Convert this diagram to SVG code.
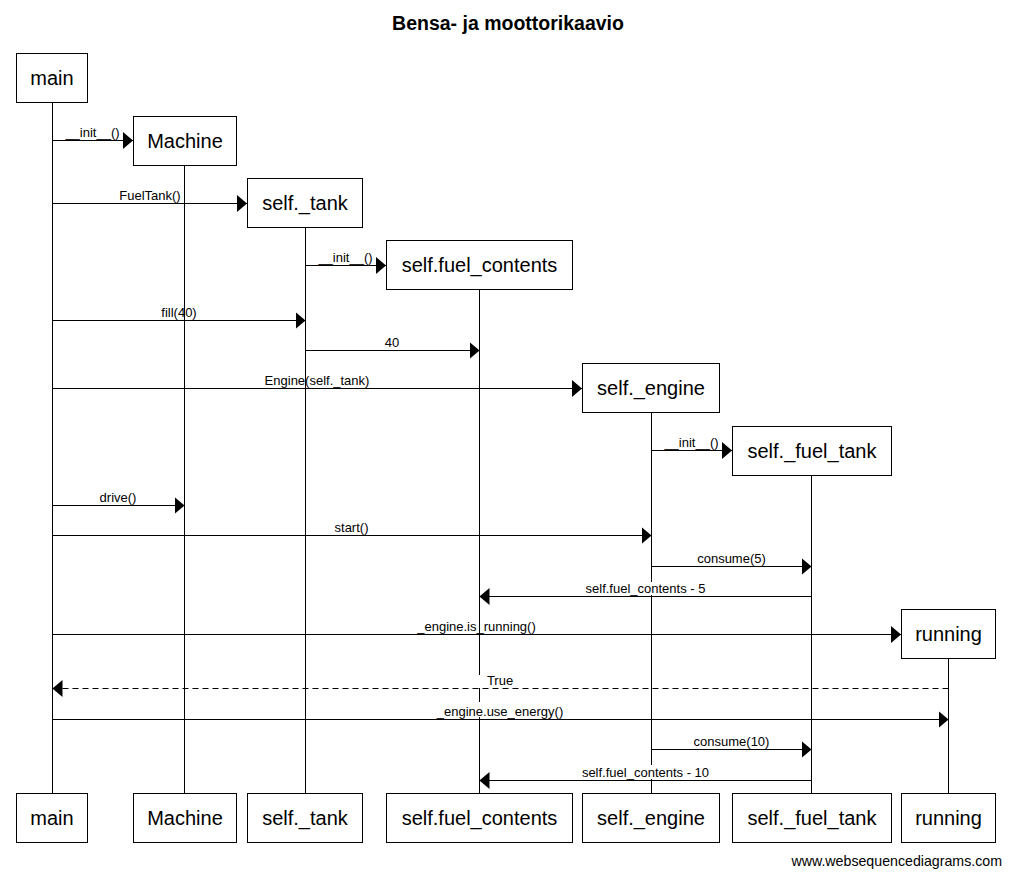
<svg xmlns="http://www.w3.org/2000/svg" width="1010" height="876" viewBox="0 0 1010 876">
<style>
text { font-family: "Liberation Sans", Arial, sans-serif; fill: #000; }
.box { fill: #fff; stroke: #000; stroke-width: 1; }
.pname { font-size: 20px; text-anchor: middle; }
.life { stroke: #000; stroke-width: 1; fill: none; }
.msg { stroke: #000; stroke-width: 1; fill: none; marker-end: url(#arr); }
.ret { stroke-dasharray: 6,4; }
.lbl { font-size: 13px; text-anchor: middle; }
.title { font-size: 19.5px; font-weight: bold; text-anchor: middle; }
.wm { font-size: 14.2px; text-anchor: end; }
</style>
<defs>
<marker id="arr" markerUnits="userSpaceOnUse" markerWidth="10" markerHeight="17" refX="10" refY="8.5" orient="auto" viewBox="0 0 10 17">
<path d="M0,0 L10,8.5 L0,17 Z" fill="#000"/>
</marker>
</defs>
<rect x="0" y="0" width="1010" height="876" fill="#fff"/>
<text class="title" x="508" y="30">Bensa- ja moottorikaavio</text>

<g id="main">
<line class="life" x1="52.5" y1="102" x2="52.5" y2="793"/>
<rect class="box" x="16.5" y="53.5" width="71" height="49"/>
<text class="pname" x="52" y="85">main</text>
<rect class="box" x="16.5" y="793.5" width="71" height="49"/>
<text class="pname" x="52" y="825">main</text>
</g>

<g id="machine">
<line class="life" x1="184.5" y1="165" x2="184.5" y2="793"/>
<rect class="box" x="133.5" y="116.5" width="103" height="49"/>
<text class="pname" x="185" y="148">Machine</text>
<rect class="box" x="133.5" y="793.5" width="103" height="49"/>
<text class="pname" x="185" y="825">Machine</text>
</g>

<g id="self_tank">
<line class="life" x1="305.5" y1="227" x2="305.5" y2="793"/>
<rect class="box" x="247.5" y="178.5" width="115" height="49"/>
<text class="pname" x="305" y="210">self._tank</text>
<rect class="box" x="247.5" y="793.5" width="115" height="49"/>
<text class="pname" x="305" y="825">self._tank</text>
</g>

<g id="self_fuel_contents">
<line class="life" x1="479.5" y1="289" x2="479.5" y2="675"/>
<line class="life" x1="479.5" y1="688" x2="479.5" y2="702"/>
<line class="life" x1="479.5" y1="717" x2="479.5" y2="793"/>
<rect class="box" x="386.5" y="240.5" width="186" height="49"/>
<text class="pname" x="479.5" y="272">self.fuel_contents</text>
<rect class="box" x="386.5" y="793.5" width="186" height="49"/>
<text class="pname" x="479.5" y="825">self.fuel_contents</text>
</g>

<g id="self_engine">
<line class="life" x1="651.5" y1="412" x2="651.5" y2="582"/>
<line class="life" x1="651.5" y1="595" x2="651.5" y2="765"/>
<line class="life" x1="651.5" y1="779" x2="651.5" y2="793"/>
<rect class="box" x="582.5" y="363.5" width="137" height="49"/>
<text class="pname" x="651" y="395">self._engine</text>
<rect class="box" x="582.5" y="793.5" width="137" height="49"/>
<text class="pname" x="651" y="825">self._engine</text>
</g>

<g id="self_fuel_tank">
<line class="life" x1="811.5" y1="475" x2="811.5" y2="793"/>
<rect class="box" x="732.5" y="426.5" width="159" height="49"/>
<text class="pname" x="812" y="458">self._fuel_tank</text>
<rect class="box" x="732.5" y="793.5" width="159" height="49"/>
<text class="pname" x="812" y="825">self._fuel_tank</text>
</g>

<g id="running">
<line class="life" x1="948.5" y1="658" x2="948.5" y2="793"/>
<rect class="box" x="901.5" y="609.5" width="94" height="49"/>
<text class="pname" x="948.5" y="641">running</text>
<rect class="box" x="901.5" y="793.5" width="94" height="49"/>
<text class="pname" x="948.5" y="825">running</text>
</g>

<g id="connectors">
<line class="msg" x1="52.5" y1="140.5" x2="133" y2="140.5"/>
<text class="lbl" x="92.5" y="137">__init__()</text>

<line class="msg" x1="52.5" y1="203.5" x2="247" y2="203.5"/>
<text class="lbl" x="150" y="200">FuelTank()</text>

<line class="msg" x1="305.5" y1="265.5" x2="386" y2="265.5"/>
<text class="lbl" x="345.5" y="262">__init__()</text>

<line class="msg" x1="52.5" y1="320.5" x2="305.5" y2="320.5"/>
<text class="lbl" x="179" y="317">fill(40)</text>

<line class="msg" x1="305.5" y1="350.5" x2="479.5" y2="350.5"/>
<text class="lbl" x="392" y="347">40</text>

<line class="msg" x1="52.5" y1="388.5" x2="582" y2="388.5"/>
<text class="lbl" x="317" y="385">Engine(self._tank)</text>

<line class="msg" x1="651.5" y1="450.5" x2="732" y2="450.5"/>
<text class="lbl" x="691.5" y="447">__init__()</text>

<line class="msg" x1="52.5" y1="505.5" x2="184.5" y2="505.5"/>
<text class="lbl" x="118" y="502">drive()</text>

<line class="msg" x1="52.5" y1="535.5" x2="651.5" y2="535.5"/>
<text class="lbl" x="351.5" y="532">start()</text>

<line class="msg" x1="651.5" y1="566.5" x2="811.5" y2="566.5"/>
<text class="lbl" x="731.5" y="563">consume(5)</text>

<line class="msg" x1="811.5" y1="596.5" x2="479.5" y2="596.5"/>
<text class="lbl" x="645.5" y="593">self.fuel_contents - 5</text>

<line class="msg" x1="52.5" y1="634.5" x2="901" y2="634.5"/>
<text class="lbl" x="476.5" y="631">_engine.is_running()</text>

<line class="msg ret" x1="948.5" y1="688.5" x2="52.5" y2="688.5"/>
<text class="lbl" x="500" y="685">True</text>

<line class="msg" x1="52.5" y1="719.5" x2="948.5" y2="719.5"/>
<text class="lbl" x="500" y="716">_engine.use_energy()</text>

<line class="msg" x1="651.5" y1="749.5" x2="811.5" y2="749.5"/>
<text class="lbl" x="731.5" y="746">consume(10)</text>

<line class="msg" x1="811.5" y1="780.5" x2="479.5" y2="780.5"/>
<text class="lbl" x="645.5" y="777">self.fuel_contents - 10</text>
</g>

<text class="wm" x="1002" y="866">www.websequencediagrams.com</text>
</svg>
